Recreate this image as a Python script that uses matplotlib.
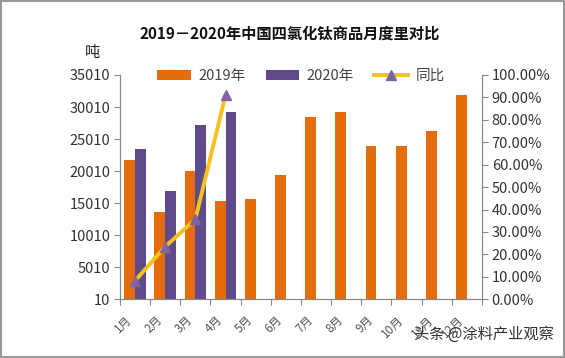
import matplotlib.pyplot as plt
import matplotlib.transforms as mtransforms
import numpy as np

plt.rcParams['font.family'] = ['Noto Sans CJK SC', 'DejaVu Sans']

months = ['1月', '2月', '3月', '4月', '5月', '6月', '7月', '8月', '9月', '10月', '11月', '12月']
sales_2019 = [21700, 13600, 20000, 15300, 15700, 19400, 28400, 29200, 23900, 23900, 26200, 31900]
sales_2020 = [23500, 16900, 27200, 29300]
yoy = [0.083, 0.235, 0.357, 0.911]
left_ticks = [10, 5010, 10010, 15010, 20010, 25010, 30010, 35010]
right_ticks = [0, 0.1, 0.2, 0.3, 0.4, 0.5, 0.6, 0.7, 0.8, 0.9, 1.0]

c19 = '#E46C0A'
c20 = '#5F4A8B'
cline = '#F5C21B'
cmark = '#8064A2'
gray = '#888888'

fig = plt.figure(figsize=(5.65, 3.58), dpi=100)
ax = fig.add_axes([0.2124, 0.164, 0.6406, 0.6266])
ax2 = ax.twinx()

x = np.arange(len(months))
w = 0.36
b1 = ax.bar(x - w / 2, sales_2019, width=w, color=c19, label='2019年', zorder=2)
b2 = ax.bar(x[:len(sales_2020)] + w / 2, sales_2020, width=w, color=c20, label='2020年', zorder=2)
ln, = ax2.plot(x[:len(yoy)], yoy, color=cline, linewidth=2.8, marker='^', markersize=7,
               markerfacecolor=cmark, markeredgecolor=cmark, label='同比', zorder=3)

ax.set_xlim(-0.5, len(months) - 0.5)
ax.set_ylim(10, 35010)
ax.set_yticks(left_ticks)
ax.set_yticklabels([str(t) for t in left_ticks])
ax2.set_ylim(0, 1)
ax2.set_yticks(right_ticks)
ax2.set_yticklabels(['%.2f%%' % (t * 100) for t in right_ticks])

ax.set_xticks(np.arange(len(months) + 1) - 0.5, minor=False)
ax.set_xticklabels([])
ax.set_xticks(x, minor=True)
ax.set_xticklabels(months, minor=True, rotation=45, ha='right', rotation_mode='anchor')
ax.tick_params(axis='x', which='major', length=4, color=gray, direction='out')
ax.tick_params(axis='x', which='minor', length=0, pad=10, labelsize=8.5, labelcolor='#555555')
shift = mtransforms.ScaledTranslation(-10 / 100, 0, fig.dpi_scale_trans)
for lbl in ax.get_xticklabels(minor=True):
    lbl.set_transform(lbl.get_transform() + shift)

for a in (ax, ax2):
    a.spines['top'].set_visible(False)
    for s in ('left', 'right', 'bottom'):
        a.spines[s].set_color(gray)
ax.tick_params(axis='y', length=4, color=gray, labelsize=10.5, labelcolor='#333333', pad=3)
ax2.tick_params(axis='y', length=4, color=gray, labelsize=10.5, labelcolor='#333333', pad=3)

fig.text(0.513, 0.905, '2019－2020年中国四氯化钛商品月度里对比', ha='center', va='center',
         fontsize=11, fontweight='bold', color='#111111')
fig.text(0.163, 0.853, '吨', ha='center', va='center', fontsize=11, color='#222222')

leg = ax.legend([b1, b2, ln], ['2019年', '2020年', '同比'], loc='upper center',
                bbox_to_anchor=(0.5, 1.085), ncol=3, frameon=False, fontsize=10.5,
                handlelength=2.3, handleheight=0.6, columnspacing=1.4, handletextpad=0.5)
for t in leg.get_texts():
    t.set_color('#444444')

fig.text(0.98, 0.065, '头条 @涂料产业观察', ha='right', va='center', fontsize=11, color='#333333')

fig.patches.append(plt.Rectangle((0.002, 0.003), 0.996, 0.994, transform=fig.transFigure,
                                 fill=False, edgecolor='#999999', linewidth=1.5))

fig.savefig('out.png', dpi=100)
